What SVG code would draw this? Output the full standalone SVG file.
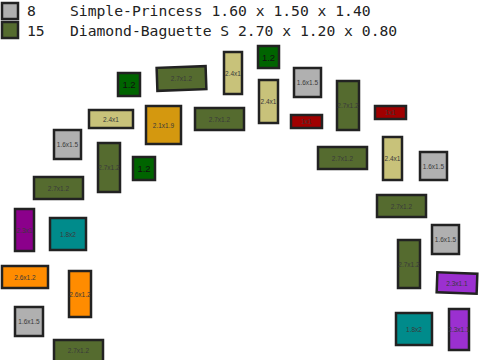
<svg xmlns="http://www.w3.org/2000/svg" width="480" height="360" viewBox="0 0 480 360">
<style>
.b{stroke:#222;stroke-width:2.5}
.g{fill:#b0b0b0}.o{fill:#556b2f}.dg{fill:#006400}.y{fill:#c8c27a}.au{fill:#d4980f}
.r{fill:#a00000}.t{fill:#008b8b}.pm{fill:#8b008b}.po{fill:#9b30d0}.or{fill:#ff8c00}
.l{font-family:"Liberation Sans",Arial,sans-serif;font-size:6.5px;fill:#3a3a3a;text-anchor:middle;dominant-baseline:central}
.lg{font-family:"DejaVu Sans Mono",monospace;font-size:14.7px;fill:#222}
.d{font-size:9.5px;fill:#111}
</style>
<rect width="480" height="360" fill="#fff"/>
<g id="legend">
<rect class="b g" x="2" y="3" width="16" height="16"/>
<text class="lg" x="27" y="16">8</text>
<text class="lg" x="70" y="16">Simple-Princess 1.60 x 1.50 x 1.40</text>
<rect class="b o" x="2" y="22" width="16" height="16"/>
<text class="lg" x="27" y="36">15</text>
<text class="lg" x="70" y="36">Diamond-Baguette S 2.70 x 1.20 x 0.80</text>
</g>
<g id="n1"><rect class="b dg" x="118" y="73" width="22" height="23"/><text class="l d" x="129" y="84.5">1.2</text></g>
<g id="n2"><rect class="b y" x="89" y="110" width="44" height="18"/><text class="l" x="111" y="119">2.4x1</text></g>
<g id="n3"><rect class="b g" x="54" y="130" width="27" height="29"/><text class="l" x="67.5" y="144.5">1.6x1.5</text></g>
<g id="n4"><rect class="b au" x="146" y="106" width="35" height="38"/><text class="l" x="163.5" y="125">2.1x1.9</text></g>
<g id="n5"><rect class="b o" x="157" y="67" width="49" height="23" transform="rotate(-2 181.5 78.5)"/><text class="l" x="181.5" y="78.5">2.7x1.2</text></g>
<g id="n6"><rect class="b y" x="224" y="52" width="18" height="42"/><text class="l" x="233" y="73">2.4x1</text></g>
<g id="n7"><rect class="b dg" x="258" y="46" width="21" height="22"/><text class="l d" x="268.5" y="57">1.2</text></g>
<g id="n8"><rect class="b o" x="195" y="108" width="49" height="22"/><text class="l" x="219.5" y="119">2.7x1.2</text></g>
<g id="n9"><rect class="b y" x="259" y="80" width="19" height="43"/><text class="l" x="268.5" y="101.5">2.4x1</text></g>
<g id="n10"><rect class="b g" x="294" y="68" width="27" height="29"/><text class="l" x="307.5" y="82.5">1.6x1.5</text></g>
<g id="n11"><rect class="b o" x="337" y="81" width="22" height="49"/><text class="l" x="348" y="105.5">2.7x1.2</text></g>
<g id="n12"><rect class="b r" x="291" y="115" width="31" height="13"/><text class="l" x="306.5" y="121.5">1x1</text></g>
<g id="n13"><rect class="b r" x="375" y="106" width="31" height="13"/><text class="l" x="390.5" y="112.5">1x1</text></g>
<g id="n14"><rect class="b o" x="318" y="147" width="49" height="22"/><text class="l" x="342.5" y="158">2.7x1.2</text></g>
<g id="n15"><rect class="b y" x="383" y="137" width="19" height="43"/><text class="l" x="392.5" y="158.5">2.4x1</text></g>
<g id="n16"><rect class="b g" x="420" y="152" width="27" height="28"/><text class="l" x="433.5" y="166">1.6x1.5</text></g>
<g id="n17"><rect class="b o" x="377" y="195" width="49" height="22"/><text class="l" x="401.5" y="206">2.7x1.2</text></g>
<g id="n18"><rect class="b g" x="432" y="225" width="27" height="29"/><text class="l" x="445.5" y="239.5">1.6x1.5</text></g>
<g id="n19"><rect class="b o" x="398" y="240" width="22" height="48"/><text class="l" x="409" y="264">2.7x1.2</text></g>
<g id="n20"><rect class="b po" x="437" y="273" width="40" height="20" transform="rotate(2 457 283)"/><text class="l" x="457" y="283">2.3x1.1</text></g>
<g id="n21"><rect class="b t" x="396" y="313" width="36" height="32"/><text class="l" x="414" y="329">1.8x2</text></g>
<g id="n22"><rect class="b po" x="449" y="309" width="20" height="41"/><text class="l" x="459" y="329.5">2.3x1.1</text></g>
<g id="n23"><rect class="b o" x="98" y="143" width="22" height="49"/><text class="l" x="109" y="167.5">2.7x1.2</text></g>
<g id="n24"><rect class="b dg" x="133" y="157" width="22" height="23"/><text class="l d" x="144" y="168.5">1.2</text></g>
<g id="n25"><rect class="b o" x="34" y="177" width="49" height="22"/><text class="l" x="58.5" y="188">2.7x1.2</text></g>
<g id="n26"><rect class="b pm" x="15" y="209" width="19" height="42"/><text class="l" x="24.5" y="230">2.3x1</text></g>
<g id="n27"><rect class="b t" x="50" y="218" width="36" height="32"/><text class="l" x="68" y="234">1.8x2</text></g>
<g id="n28"><rect class="b or" x="2" y="266" width="46" height="22"/><text class="l" x="25" y="277">2.6x1.2</text></g>
<g id="n29"><rect class="b or" x="69" y="271" width="22" height="46"/><text class="l" x="80" y="294">2.6x1.2</text></g>
<g id="n30"><rect class="b g" x="15" y="307" width="28" height="29"/><text class="l" x="29" y="321.5">1.6x1.5</text></g>
<g id="n31"><rect class="b o" x="54" y="340" width="49" height="22"/><text class="l" x="78.5" y="350">2.7x1.2</text></g>
<g id="connectors"/>
</svg>
